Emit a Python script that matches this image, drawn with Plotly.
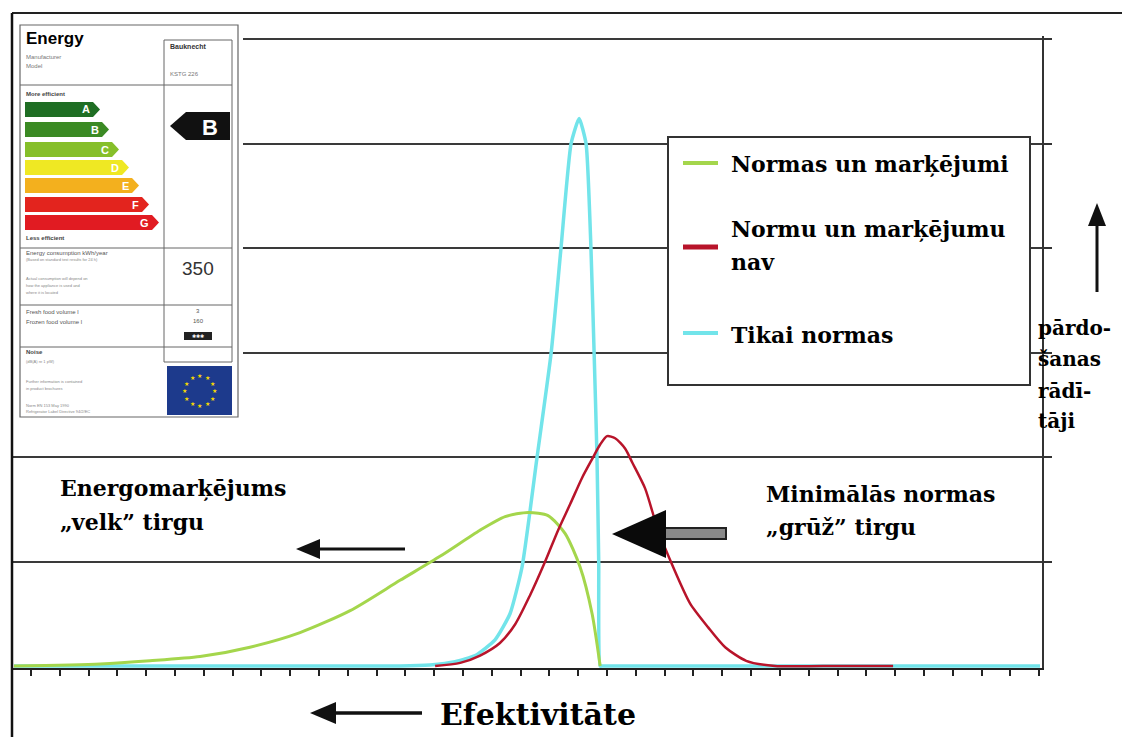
import math
import plotly.graph_objects as go

# ---------------- data (efficiency scale index, relative sales) ----------------
green_name = "Normas un marķējumi"
green_x = [-0.59, 2.40, 4.13, 5.87, 7.60, 9.34, 11.08, 12.81, 14.20, 15.59, 16.46, 17.26, 17.95, 18.54, 19.06, 19.48, 19.76]
green_y = [0.0, 0.02, 0.05, 0.09, 0.18, 0.32, 0.53, 0.82, 1.05, 1.30, 1.43, 1.47, 1.44, 1.27, 0.95, 0.50, 0.0]

red_name = "Normu un marķējumu nav"
red_x = [14.03, 14.90, 15.59, 16.28, 16.81, 17.33, 17.85, 18.30, 18.72, 19.13, 19.48, 19.76, 20.00, 20.28,
         20.63, 20.87, 21.32, 21.77, 22.29, 22.88, 23.51, 24.10, 24.83, 25.83, 27.50, 29.93]
red_y = [0.0, 0.03, 0.10, 0.22, 0.40, 0.68, 1.00, 1.30, 1.55, 1.80, 1.98, 2.12, 2.20, 2.18,
         2.08, 1.95, 1.70, 1.30, 0.95, 0.60, 0.37, 0.18, 0.05, 0.0, 0.0, 0.0]

cyan_name = "Tikai normas"
cyan_x = [-0.59, 5.87, 12.81, 13.85, 14.72, 15.42, 16.11, 16.63, 17.05, 17.57, 18.06, 18.40, 18.75, 19.03,
          19.27, 19.44, 19.55, 19.65, 19.71, 19.76, 19.84, 20.30, 24.00, 30.00, 35.03]
cyan_y = [0.0, 0.0, 0.0, 0.01, 0.04, 0.10, 0.25, 0.50, 0.95, 2.00, 3.00, 4.00, 5.00, 5.24,
          5.00, 4.00, 3.00, 2.00, 1.00, 0.0, 0.0, 0.0, 0.0, 0.0, 0.0]

x_ticks = list(range(0, 36))
y_grid = [1, 2, 3, 4, 5, 6]

label_classes = ["A", "B", "C", "D", "E", "F", "G"]
label_colors = ["#1f6e24", "#3b8a24", "#86bf2a", "#efe823", "#f3b01e", "#e3241e", "#e11b22"]

# ---------------- helpers ----------------
W, H = 1122, 737
SERIF = "DejaVu Serif"
SANS = "Liberation Sans"


def px(x):
    return x / W


def py(y):
    return 1 - y / H


shapes = []
annotations = []


def rect(x0, y0, x1, y1, fill=None, line=None, lw=1.0):
    shapes.append(dict(type="rect", xref="paper", yref="paper", layer="above",
                       x0=px(x0), x1=px(x1), y0=py(y1), y1=py(y0),
                       fillcolor=fill if fill else "rgba(0,0,0,0)",
                       line=dict(color=line if line else "rgba(0,0,0,0)", width=lw if line else 0)))


def seg(x0, y0, x1, y1, color="#222", w=2.0):
    shapes.append(dict(type="line", xref="paper", yref="paper", layer="above",
                       x0=px(x0), x1=px(x1), y0=py(y0), y1=py(y1),
                       line=dict(color=color, width=w)))


def poly(pts, fill, line=None, lw=0):
    d = "M " + " L ".join(f"{px(a):.5f},{py(b):.5f}" for a, b in pts) + " Z"
    shapes.append(dict(type="path", xref="paper", yref="paper", layer="above", path=d,
                       fillcolor=fill, line=dict(color=line if line else fill, width=lw)))


def text(x, y, s, size, color="black", family=SERIF, weight=700, anchor="left"):
    annotations.append(dict(xref="paper", yref="paper", x=px(x), y=py(y), text=s, showarrow=False,
                            xanchor=anchor, yanchor="middle",
                            font=dict(family=family, size=size, color=color, weight=weight)))


# ---------------- traces (cyan drawn first so green / red sit on top at the baseline) ----------------
fig = go.Figure()
fig.add_trace(go.Scatter(x=cyan_x, y=cyan_y, name=cyan_name, mode="lines",
                         line=dict(color="#72e4ea", width=3.5, shape="spline", smoothing=0.5)))
fig.add_trace(go.Scatter(x=green_x, y=green_y, name=green_name, mode="lines",
                         line=dict(color="#a4d64c", width=3, shape="spline", smoothing=0.7)))
fig.add_trace(go.Scatter(x=red_x, y=red_y, name=red_name, mode="lines",
                         line=dict(color="#b8142a", width=2.5, shape="spline", smoothing=0.7)))

# ---------------- energy label (top-left picture) ----------------
rect(12, 13, 243, 428, fill="white")
rect(20, 25, 238, 417, line="#666", lw=1.2)
rect(164, 40, 232, 362, line="#666", lw=1.0)
for yy in [85, 248, 305, 347]:
    seg(20, yy, 232, yy, color="#666", w=1)

text(24, 39, "Energy", 17, family=SANS)
text(24, 57, "Manufacturer", 6, color="#777", family=SANS, weight=400)
text(24, 66, "Model", 6, color="#777", family=SANS, weight=400)
text(168, 46, "Bauknecht", 7, color="#333", family=SANS)
text(168, 74, "KSTG 226", 6, color="#777", family=SANS, weight=400)
text(24, 94, "More efficient", 6, color="#444", family=SANS)

bar_top = [102, 122, 142, 160, 178, 197, 215]
bar_right = [93, 102, 112, 122, 132, 142, 152]
for i, cls in enumerate(label_classes):
    y0 = bar_top[i]
    y1 = y0 + 15
    xr = bar_right[i]
    poly([(25, y0), (xr, y0), (xr + 7, (y0 + y1) / 2), (xr, y1), (25, y1)], label_colors[i])
    text(xr - 1, (y0 + y1) / 2, cls, 11, color="white", family=SANS, anchor="right")

text(24, 238, "Less efficient", 6, color="#444", family=SANS)

poly([(170, 126), (186, 112), (230, 112), (230, 140), (186, 140)], "#111")
text(210, 127, "B", 22, color="white", family=SANS, anchor="center")

text(24, 253, "Energy consumption kWh/year", 6, color="#555", family=SANS, weight=400)
text(24, 260, "(Based on standard test results for 24 h)", 4, color="#888", family=SANS, weight=400)
text(24, 278, "Actual consumption will depend on", 4, color="#888", family=SANS, weight=400)
text(24, 285, "how the appliance is used and", 4, color="#888", family=SANS, weight=400)
text(24, 292, "where it is located", 4, color="#888", family=SANS, weight=400)
text(198, 268, "350", 19, color="#333", family=SANS, weight=400, anchor="center")

text(24, 312, "Fresh food volume l", 6, color="#555", family=SANS, weight=400)
text(24, 322, "Frozen food volume l", 6, color="#555", family=SANS, weight=400)
text(198, 311, "3", 6, color="#555", family=SANS, weight=400, anchor="center")
text(198, 321, "160", 6, color="#555", family=SANS, weight=400, anchor="center")
rect(184, 332, 212, 340, fill="#222")
text(198, 336, "✱✱✱", 5, color="white", family=SANS, weight=400, anchor="center")

text(24, 352, "Noise", 6, color="#444", family=SANS)
text(24, 361, "(dB(A) re 1 pW)", 4, color="#888", family=SANS, weight=400)
text(24, 381, "Further information is contained", 4, color="#888", family=SANS, weight=400)
text(24, 388, "in product brochures", 4, color="#888", family=SANS, weight=400)
text(24, 405, "Norm EN 153 May 1990", 4, color="#888", family=SANS, weight=400)
text(24, 411, "Refrigerator Label Directive 94/2/EC", 4, color="#888", family=SANS, weight=400)

rect(167, 366, 232, 415, fill="#1d3a8c")
for k in range(12):
    a = math.radians(k * 30)
    text(199.5 + 15 * math.cos(a), 390.5 + 15 * math.sin(a), "★", 6, color="#f5d800",
         family="DejaVu Sans", weight=400, anchor="center")

# ---------------- frame ----------------
seg(12, 13, 1122, 13, color="#222", w=2)
seg(12, 13, 12, 737, color="#111", w=2.5)

# ---------------- legend box ----------------
rect(668, 137, 1030, 385, fill="white", line="#333", lw=2)
seg(683, 163, 718, 163, color="#a4d64c", w=4)
seg(683, 247, 718, 247, color="#b8142a", w=5)
seg(683, 333, 718, 333, color="#72e4ea", w=4)
text(729, 164, green_name, 22)
text(729, 229, "Normu un marķējumu", 22)
text(729, 262, "nav", 22)
text(729, 335, cyan_name, 22)

# ---------------- side texts / arrows ----------------
text(1036, 328, "pārdo-", 20)
text(1036, 359, "šanas", 20)
text(1036, 391, "rādī-", 20)
text(1036, 421, "tāji", 20)
seg(1097, 292, 1097, 220, color="#111", w=3)
poly([(1097, 203), (1088, 226), (1106, 226)], "#111")

text(58, 488, "Energomarķējums", 22)
text(58, 522, "„velk” tirgu", 22)
seg(405, 549, 315, 549, color="#111", w=3)
poly([(296, 549), (320, 539), (320, 559)], "#111")

text(764, 494, "Minimālās normas", 22)
text(764, 527, "„grūž” tirgu", 22)
rect(660, 528, 726, 539, fill="#8a8a8a", line="#222", lw=2)
poly([(612, 534), (666, 510), (666, 558)], "#0a0a0a")

text(438, 714, "Efektivitāte", 30, weight=700)
seg(422, 713, 330, 713, color="#111", w=3.5)
poly([(310, 713), (336, 702), (336, 724)], "#111")

# ---------------- layout ----------------
fig.update_layout(
    width=W, height=H, autosize=False,
    margin=dict(l=0, r=0, t=0, b=0),
    paper_bgcolor="white", plot_bgcolor="white",
    showlegend=False,
    xaxis=dict(domain=[12 / W, 1042 / W], range=[-0.66, 35.10], tickvals=x_ticks,
               showticklabels=False, ticks="outside", ticklen=6, tickwidth=1.5, tickcolor="#222",
               showline=True, linecolor="#222", linewidth=2, showgrid=False, zeroline=False,
               layer="below traces", fixedrange=True),
    yaxis=dict(domain=[1 - 668.1 / H, 1 - 36 / H], range=[-0.02, 6.03], tickvals=y_grid,
               side="right", showticklabels=False, ticks="outside", ticklen=8, tickwidth=2,
               tickcolor="#333", showline=True, linecolor="#333", linewidth=2,
               showgrid=True, gridcolor="#3a3a3a", gridwidth=2, zeroline=False,
               layer="below traces", fixedrange=True),
    shapes=shapes,
    annotations=annotations,
)

fig.write_html("out.html", config={"displayModeBar": False},
               post_script="document.body.style.margin='0';document.body.style.overflow='hidden';")
